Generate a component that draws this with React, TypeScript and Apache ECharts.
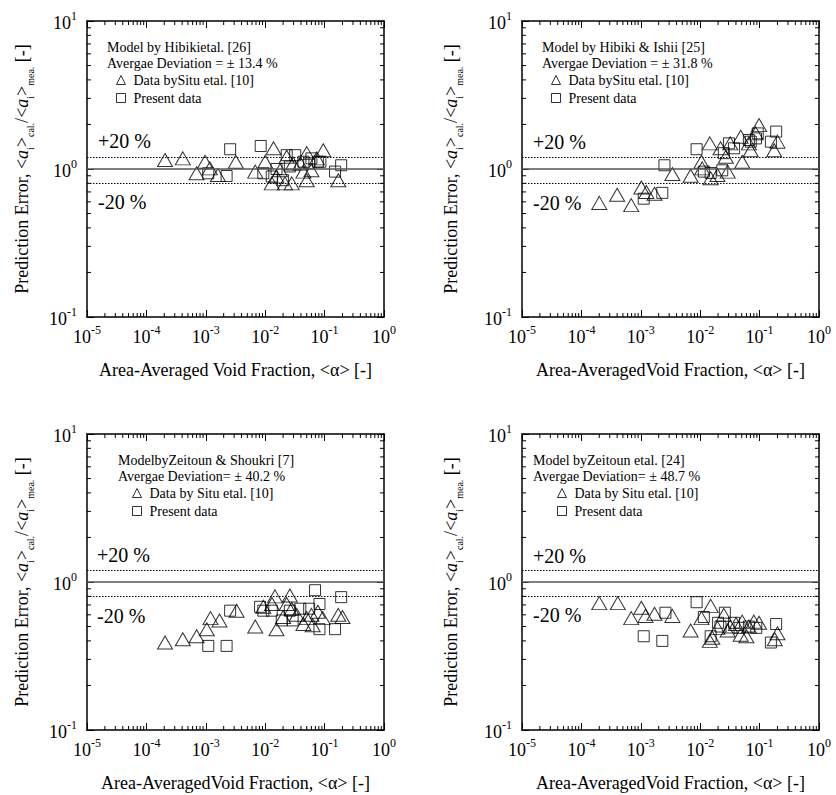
import React, { useEffect, useRef } from "react";
import * as echarts from "echarts";

const FONT = "Liberation Serif, Times New Roman, Times, serif";

// ---------- data (x: area-averaged void fraction, y: prediction error) ----------
// Panel A: Model by Hibiki et al. [26]
const aSituX = [2.06e-4, 4.1e-4, 9.7e-4, 7.0e-4, 1.17e-3, 1.6e-3, 3.2e-3, 6.8e-3, 1.0e-2, 1.38e-2, 1.29e-2, 1.55e-2, 2.15e-2, 2.8e-2, 2.3e-2, 2.95e-2, 5.0e-2, 5.0e-2, 6.0e-2, 9.5e-2, 7.4e-2, 0.17, 3.9e-2, 1.78e-2, 4.4e-2];
const aSituY = [1.15, 1.18, 1.12, 0.935, 1.01, 0.91, 1.12, 0.96, 1.12, 1.38, 0.80, 0.89, 0.80, 0.80, 1.21, 1.09, 1.28, 0.84, 0.98, 1.34, 1.18, 0.84, 1.09, 0.98, 0.96];
const aPresX = [2.57e-3, 2.24e-3, 1.1e-3, 8.4e-3, 9.3e-3, 1.29e-2, 2.3e-2, 3.2e-2, 2.6e-2, 2.0e-2, 4.4e-2, 6.0e-2, 7.7e-2, 8.5e-2, 0.19, 0.15, 1.55e-2, 5.5e-2];
const aPresY = [1.36, 0.897, 0.935, 1.43, 0.935, 0.89, 1.24, 1.24, 1.04, 0.84, 1.12, 1.18, 1.12, 1.12, 1.06, 0.96, 1.0, 1.09];

// Panel B: Model by Hibiki & Ishii [25]
const bSituX = [2.0e-4, 4.0e-4, 6.9e-4, 1.02e-3, 1.24e-3, 1.7e-3, 3.4e-3, 6.9e-3, 1.05e-2, 1.45e-2, 1.5e-2, 2.2e-2, 2.7e-2, 2.9e-2, 3.2e-2, 4.8e-2, 5.1e-2, 7.1e-2, 9.8e-2, 8.6e-2, 0.176, 0.2, 1.95e-2, 6.6e-2, 1.08e-2];
const bSituY = [0.59, 0.67, 0.57, 0.75, 0.70, 0.68, 0.925, 0.90, 1.12, 1.49, 0.865, 1.38, 1.21, 0.96, 1.49, 1.65, 1.12, 1.34, 1.98, 1.74, 1.34, 1.53, 0.91, 1.49, 1.01];
const bPresX = [2.5e-3, 2.3e-3, 1.12e-3, 8.7e-3, 1.15e-2, 1.5e-2, 2.35e-2, 3.05e-2, 2.5e-2, 3.7e-2, 6.6e-2, 8.7e-2, 9.3e-2, 0.19, 0.155, 7.1e-2];
const bPresY = [1.06, 0.69, 0.63, 1.36, 0.96, 0.94, 0.98, 1.49, 1.28, 1.38, 1.57, 1.61, 1.74, 1.79, 1.53, 1.53];

// Panel C: Model by Zeitoun & Shoukri [7]
const cSituX = [2.06e-4, 4.1e-4, 7.0e-4, 1.04e-3, 1.2e-3, 1.7e-3, 3.3e-3, 6.8e-3, 1.46e-2, 1.55e-2, 2.6e-2, 9.3e-3, 1.3e-2, 2.0e-2, 2.3e-2, 3.4e-2, 5.0e-2, 4.4e-2, 6.0e-2, 7.7e-2, 9.3e-2, 0.17, 0.2, 2.8e-2, 6.3e-2];
const cSituY = [0.39, 0.41, 0.43, 0.48, 0.57, 0.55, 0.64, 0.50, 0.80, 0.48, 0.81, 0.68, 0.71, 0.58, 0.71, 0.60, 0.57, 0.52, 0.60, 0.63, 0.57, 0.60, 0.58, 0.66, 0.51];
const cPresX = [2.57e-3, 1.1e-3, 2.24e-3, 8.2e-3, 9.3e-3, 1.29e-2, 3.9e-2, 6.9e-2, 8.2e-2, 0.19, 8.2e-2, 0.15, 1.9e-2, 2.6e-2, 5.5e-2, 2.9e-2];
const cPresY = [0.64, 0.37, 0.37, 0.68, 0.64, 0.64, 0.66, 0.88, 0.71, 0.79, 0.48, 0.48, 0.55, 0.64, 0.66, 0.55];

// Panel D: Model by Zeitoun et al. [24]
const dSituX = [2.0e-4, 4.1e-4, 6.9e-4, 1.02e-3, 1.2e-3, 1.7e-3, 3.4e-3, 6.9e-3, 1.05e-2, 1.5e-2, 1.6e-2, 2.5e-2, 3.2e-2, 5.1e-2, 6.0e-2, 4.8e-2, 8.0e-2, 9.8e-2, 0.2, 0.18, 1.95e-2, 2.9e-2, 6.6e-2, 1.45e-2, 4.0e-2];
const dSituY = [0.72, 0.72, 0.57, 0.67, 0.59, 0.61, 0.59, 0.47, 0.57, 0.69, 0.42, 0.60, 0.50, 0.54, 0.43, 0.44, 0.54, 0.53, 0.45, 0.41, 0.49, 0.47, 0.50, 0.40, 0.52];
const dPresX = [2.6e-3, 1.12e-3, 2.3e-3, 8.7e-3, 1.15e-2, 2.6e-2, 1.5e-2, 2.2e-2, 3.7e-2, 6.6e-2, 8.8e-2, 0.19, 0.155, 2.0e-2, 4.6e-2];
const dPresY = [0.62, 0.43, 0.40, 0.73, 0.58, 0.62, 0.43, 0.50, 0.53, 0.50, 0.49, 0.52, 0.39, 0.53, 0.49];

const situXs = [aSituX, bSituX, cSituX, dSituX];
const situYs = [aSituY, bSituY, cSituY, dSituY];
const presXs = [aPresX, bPresX, cPresX, dPresX];
const presYs = [aPresY, bPresY, cPresY, dPresY];

const modelTitles = ["Model by Hibikietal. [26]", "Model by Hibiki & Ishii [25]", "ModelbyZeitoun & Shoukri [7]", "Model byZeitoun etal. [24]"];
const deviationTexts = ["Avergae Deviation = \u00b1 13.4 %", "Avergae Deviation = \u00b1 31.8 %", "Avergae Deviation= \u00b1 40.2 %", "Avergae Deviation= \u00b1 48.7 %"];
const situNames = ["Data bySitu etal. [10]", "Data bySitu etal. [10]", "Data by Situ etal. [10]", "Data by Situ etal. [10]"];
const presName = "Present data";
const xNames = ["Area-Averaged Void Fraction, <\u03b1> [-]", "Area-AveragedVoid Fraction, <\u03b1> [-]", "Area-AveragedVoid Fraction, <\u03b1> [-]", "Area-AveragedVoid Fraction, <\u03b1> [-]"];
const yName = "{t|Prediction Error, <}{i|a}{sb|i}{t|>}{sb|cal.}{t|/<}{i|a}{sb|i}{t|>}{sb|mea.}{t| [-]}";
const plusLabel = "+20 %";
const minusLabel = "-20 %";
const refLines = [1, 1.2, 0.8];

// axis range
const X_MIN = 1e-5, X_MAX = 1;
const Y_MIN = 0.1, Y_MAX = 10;
const xMinor: number[] = [];
for (let k = -5; k <= -1; k++) for (let m = 2; m <= 9; m++) xMinor.push(m * Math.pow(10, k));
const yMinor: number[] = [];
for (let k = -1; k <= 0; k++) for (let m = 2; m <= 9; m++) yMinor.push(m * Math.pow(10, k));

// ---------- layout ----------
const GW = 297, GH = 296;
const gridPos = [
  { left: 87, top: 21 },
  { left: 522, top: 21 },
  { left: 87, top: 434 },
  { left: 522, top: 434 },
];
const textPos = [
  { mx: 107, my: 48, lx: 116, ly: 73 },
  { mx: 542, my: 48, lx: 551, ly: 73 },
  { mx: 118, my: 461, lx: 132, ly: 486 },
  { mx: 533, my: 461, lx: 557, ly: 486 },
];
const pmPos = [
  { x: 98, yp: 141, ym: 202 },
  { x: 533, yp: 142, ym: 203 },
  { x: 97, yp: 555, ym: 616 },
  { x: 533, yp: 556, ym: 615 },
];

const powLabel = (v: number) => `{b|10}{s|${Math.round(Math.log10(v))}}`;
const labelRich = {
  b: { fontSize: 18, fontFamily: FONT, color: "#000", lineHeight: 22, verticalAlign: "bottom" },
  s: { fontSize: 12, fontFamily: FONT, color: "#000", lineHeight: 12, verticalAlign: "top" },
};
const nameRich = {
  t: { fontSize: 18, fontFamily: FONT, color: "#000", lineHeight: 26, verticalAlign: "middle" },
  i: { fontSize: 18, fontFamily: FONT, color: "#000", fontStyle: "italic", lineHeight: 26, verticalAlign: "middle" },
  sb: { fontSize: 10, fontFamily: FONT, color: "#000", lineHeight: 10, verticalAlign: "bottom" },
};

function buildOption() {
  const grid: any[] = [];
  const xAxis: any[] = [];
  const yAxis: any[] = [];
  const series: any[] = [];
  const legend: any[] = [];
  const graphic: any[] = [];
  const axisLine = { show: true, onZero: false, lineStyle: { color: "#000", width: 1.5 } };
  const axisTick = { show: true, inside: true, length: 7, lineStyle: { color: "#000", width: 1 } };

  for (let i = 0; i < 4; i++) {
    const g = gridPos[i];
    grid.push({ left: g.left, top: g.top, width: GW, height: GH, containLabel: false });
    xAxis.push({
      type: "log", logBase: 10, gridIndex: i, min: X_MIN, max: X_MAX, interval: 1, position: "bottom",
      axisLine, axisTick, splitLine: { show: false },
      axisLabel: { formatter: powLabel, rich: labelRich, margin: 7, fontFamily: FONT },
      name: xNames[i], nameLocation: "middle", nameGap: 44,
      nameTextStyle: { fontFamily: FONT, fontSize: 18, color: "#000" },
    });
    xAxis.push({
      type: "log", logBase: 10, gridIndex: i, min: X_MIN, max: X_MAX, interval: 1, position: "top",
      axisLine, axisTick, splitLine: { show: false }, axisLabel: { show: false },
    });
    yAxis.push({
      type: "log", logBase: 10, gridIndex: i, min: Y_MIN, max: Y_MAX, interval: 1, position: "left",
      axisLine, axisTick, splitLine: { show: false },
      axisLabel: { formatter: powLabel, rich: labelRich, margin: 10, fontFamily: FONT },
      name: yName, nameLocation: "middle", nameRotate: 90, nameGap: i % 2 === 0 ? 52 : 58,
      nameTextStyle: { rich: nameRich, fontFamily: FONT, fontSize: 18 },
    });
    yAxis.push({
      type: "log", logBase: 10, gridIndex: i, min: Y_MIN, max: Y_MAX, interval: 1, position: "right",
      axisLine, axisTick, splitLine: { show: false }, axisLabel: { show: false },
    });

    const markerStyle = { color: "rgba(255,255,255,0)", borderColor: "#000", borderWidth: 1 };
    series.push({
      type: "scatter", name: situNames[i], xAxisIndex: 2 * i, yAxisIndex: 2 * i,
      symbol: "triangle", symbolSize: [15, 13], itemStyle: markerStyle, z: 3,
      data: situXs[i].map((x, k) => [x, situYs[i][k]]),
      markLine: {
        silent: true, symbol: "none", label: { show: false }, animation: false,
        data: refLines.map((v, k) => ({
          yAxis: v,
          lineStyle: k === 0 ? { type: "solid", color: "#555", width: 1.5 } : { type: [1.5, 1.5], color: "#000", width: 1 },
        })),
      },
    });
    series.push({
      type: "scatter", name: presName, xAxisIndex: 2 * i, yAxisIndex: 2 * i,
      symbol: "rect", symbolSize: 11, itemStyle: markerStyle, z: 4,
      data: presXs[i].map((x, k) => [x, presYs[i][k]]),
    });
    // minor ticks on all four sides
    series.push({
      type: "custom", xAxisIndex: 2 * i, yAxisIndex: 2 * i, silent: true, z: 6,
      data: xMinor.map((v) => [v, 1]),
      renderItem: (params: any, api: any) => {
        const cs = params.coordSys;
        const p = api.coord([api.value(0), api.value(1)]);
        const st = { stroke: "#000", lineWidth: 1 };
        return {
          type: "group",
          children: [
            { type: "line", shape: { x1: p[0], y1: cs.y + cs.height, x2: p[0], y2: cs.y + cs.height - 4 }, style: st },
            { type: "line", shape: { x1: p[0], y1: cs.y, x2: p[0], y2: cs.y + 4 }, style: st },
          ],
        };
      },
    });
    series.push({
      type: "custom", xAxisIndex: 2 * i, yAxisIndex: 2 * i, silent: true, z: 6,
      data: yMinor.map((v) => [1e-3, v]),
      renderItem: (params: any, api: any) => {
        const cs = params.coordSys;
        const p = api.coord([api.value(0), api.value(1)]);
        const st = { stroke: "#000", lineWidth: 1 };
        return {
          type: "group",
          children: [
            { type: "line", shape: { x1: cs.x, y1: p[1], x2: cs.x + 4, y2: p[1] }, style: st },
            { type: "line", shape: { x1: cs.x + cs.width, y1: p[1], x2: cs.x + cs.width - 4, y2: p[1] }, style: st },
          ],
        };
      },
    });

    const tp = textPos[i];
    legend.push({
      orient: "vertical", left: tp.lx, top: tp.ly, itemWidth: 9, itemHeight: 9, itemGap: 4,
      selectedMode: false, padding: 0,
      itemStyle: { color: "rgba(255,255,255,0)", borderColor: "#000", borderWidth: 1 },
      textStyle: { fontFamily: FONT, fontSize: 14, color: "#000", padding: [0, 0, 0, 3] },
      data: [
        { name: situNames[i], icon: "triangle" },
        { name: presName, icon: "rect" },
      ],
    });
    graphic.push({
      type: "text", left: tp.mx, top: tp.my - 8,
      style: { text: modelTitles[i], fontFamily: FONT, fontSize: 14, fill: "#000" },
    });
    graphic.push({
      type: "text", left: tp.mx, top: tp.my + 8,
      style: { text: deviationTexts[i], fontFamily: FONT, fontSize: 14, fill: "#000" },
    });
    const pm = pmPos[i];
    graphic.push({
      type: "text", left: pm.x, top: pm.yp - 10,
      style: { text: plusLabel, fontFamily: FONT, fontSize: 20, fill: "#000" },
    });
    graphic.push({
      type: "text", left: pm.x, top: pm.ym - 10,
      style: { text: minusLabel, fontFamily: FONT, fontSize: 20, fill: "#000" },
    });
  }

  return {
    animation: false,
    backgroundColor: "#fff",
    textStyle: { fontFamily: FONT },
    grid, xAxis, yAxis, series, legend, graphic,
  };
}

export default function App() {
  const ref = useRef<HTMLDivElement>(null);
  useEffect(() => {
    if (!ref.current) return;
    const chart = echarts.init(ref.current, undefined, { renderer: "svg" });
    chart.setOption(buildOption() as any);
    return () => chart.dispose();
  }, []);
  return (
    <div
      ref={ref}
      style={{ position: "absolute", left: 0, top: 0, width: 836, height: 795, background: "#fff" }}
    />
  );
}
